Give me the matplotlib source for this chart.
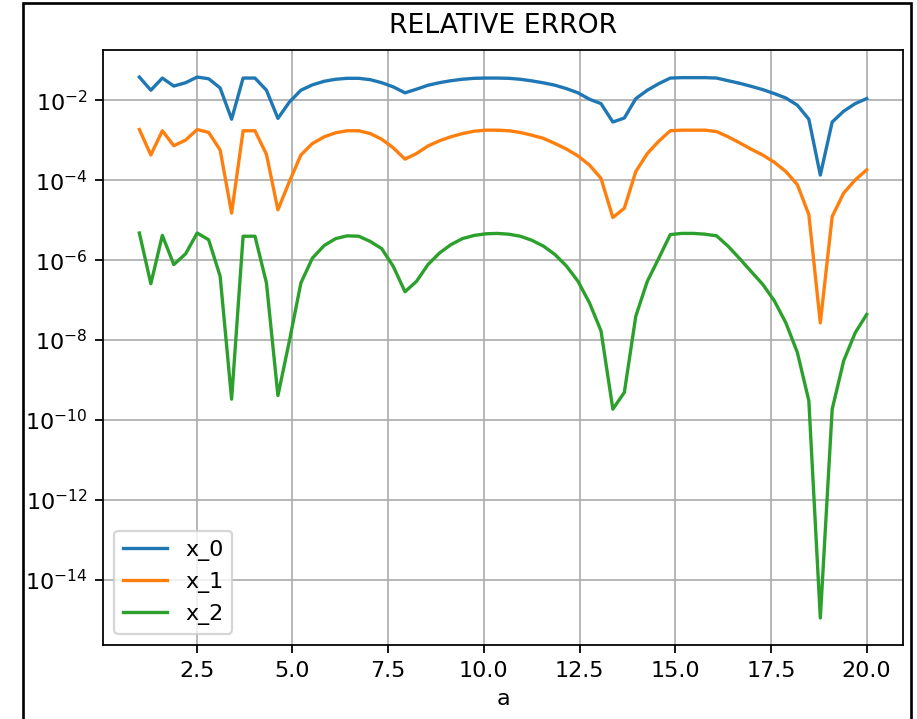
import matplotlib
matplotlib.use('Agg')
import matplotlib.pyplot as plt
from matplotlib.patches import Rectangle

# parameter a (x axis)
a_vals = [1.00, 1.30, 1.60, 1.90, 2.21, 2.51, 2.81, 3.11, 3.41, 3.71,
          4.02, 4.32, 4.62, 4.92, 5.22, 5.52, 5.83, 6.13, 6.43, 6.73,
          7.03, 7.33, 7.63, 7.94, 8.24, 8.54, 8.84, 9.14, 9.44, 9.75,
          10.05, 10.35, 10.65, 10.95, 11.25, 11.56, 11.86, 12.16, 12.46, 12.76,
          13.06, 13.37, 13.67, 13.97, 14.27, 14.57, 14.87, 15.17, 15.48, 15.78,
          16.08, 16.38, 16.68, 16.98, 17.29, 17.59, 17.89, 18.19, 18.49, 18.79,
          19.10, 19.40, 19.70, 20.00]

# relative errors
err_x0 = [3.85e-2, 1.80e-2, 3.63e-2, 2.29e-2, 2.78e-2, 3.85e-2, 3.49e-2, 2.05e-2, 3.39e-3, 3.63e-2,
          3.63e-2, 1.80e-2, 3.55e-3, 9.12e-3, 1.80e-2, 2.45e-2, 3.02e-2, 3.39e-2, 3.58e-2, 3.58e-2,
          3.31e-2, 2.78e-2, 2.19e-2, 1.55e-2, 1.91e-2, 2.40e-2, 2.78e-2, 3.12e-2, 3.39e-2, 3.58e-2,
          3.63e-2, 3.63e-2, 3.58e-2, 3.39e-2, 3.09e-2, 2.75e-2, 2.40e-2, 1.97e-2, 1.55e-2, 1.07e-2,
          8.32e-3, 2.88e-3, 3.63e-3, 1.11e-2, 1.80e-2, 2.63e-2, 3.63e-2, 3.72e-2, 3.72e-2, 3.72e-2,
          3.63e-2, 3.12e-2, 2.69e-2, 2.26e-2, 1.86e-2, 1.48e-2, 1.15e-2, 7.59e-3, 3.39e-3, 1.35e-4,
          2.88e-3, 5.37e-3, 8.32e-3, 1.11e-2]

err_x1 = [1.87e-3, 4.30e-4, 1.74e-3, 7.33e-4, 1.02e-3, 1.87e-3, 1.58e-3, 5.75e-4, 1.51e-5, 1.74e-3,
          1.74e-3, 4.47e-4, 1.82e-5, 9.33e-5, 4.30e-4, 8.32e-4, 1.23e-3, 1.55e-3, 1.74e-3, 1.74e-3,
          1.48e-3, 1.07e-3, 6.53e-4, 3.39e-4, 4.68e-4, 7.24e-4, 9.77e-4, 1.23e-3, 1.48e-3, 1.70e-3,
          1.80e-3, 1.80e-3, 1.74e-3, 1.58e-3, 1.35e-3, 1.12e-3, 8.32e-4, 6.03e-4, 4.07e-4, 2.40e-4,
          1.12e-4, 1.17e-5, 2.00e-5, 1.66e-4, 4.68e-4, 9.55e-4, 1.74e-3, 1.80e-3, 1.80e-3, 1.80e-3,
          1.66e-3, 1.23e-3, 8.71e-4, 6.03e-4, 4.27e-4, 2.82e-4, 1.66e-4, 7.76e-5, 1.38e-5, 2.69e-8,
          1.24e-5, 4.79e-5, 1.02e-4, 1.82e-4]

err_x2 = [4.79e-6, 2.57e-7, 4.17e-6, 7.76e-7, 1.45e-6, 4.79e-6, 3.24e-6, 3.98e-7, 3.31e-10, 3.98e-6,
          3.98e-6, 2.69e-7, 4.07e-10, 9.55e-9, 2.69e-7, 1.12e-6, 2.34e-6, 3.47e-6, 4.07e-6, 3.98e-6,
          2.95e-6, 1.95e-6, 7.08e-7, 1.62e-7, 2.95e-7, 7.76e-7, 1.51e-6, 2.45e-6, 3.47e-6, 4.17e-6,
          4.57e-6, 4.68e-6, 4.47e-6, 3.98e-6, 3.16e-6, 2.24e-6, 1.38e-6, 7.08e-7, 2.95e-7, 8.51e-8,
          1.70e-8, 1.86e-10, 4.90e-10, 3.98e-8, 2.95e-7, 1.12e-6, 4.37e-6, 4.68e-6, 4.68e-6, 4.47e-6,
          4.07e-6, 2.24e-6, 1.10e-6, 5.25e-7, 2.45e-7, 9.55e-8, 2.69e-8, 4.90e-9, 3.02e-10, 1.10e-15,
          1.86e-10, 3.02e-9, 1.51e-8, 4.37e-8]

labels = ['x_0', 'x_1', 'x_2']

W, H, DPI = 917, 719, 160
fig = plt.figure(figsize=(W / DPI, H / DPI), dpi=DPI)
ax = fig.add_axes([103 / W, 1 - 645 / H, 800 / W, 595 / H])

for err, lab in zip([err_x0, err_x1, err_x2], labels):
    ax.plot(a_vals, err, label=lab)

ax.set_yscale('log')
ax.set_title('RELATIVE ERROR', pad=7.5)
ax.set_xlabel('a')
ax.grid(True)
ax.legend(loc='lower left')

# black frame around the screenshot
fig.patches.append(Rectangle((23 / W, -0.05), (911 - 23) / W, 1.05 - 3 / H,
                             transform=fig.transFigure, fill=False,
                             edgecolor='black', linewidth=1.2))

fig.savefig('out.png', dpi=DPI)
